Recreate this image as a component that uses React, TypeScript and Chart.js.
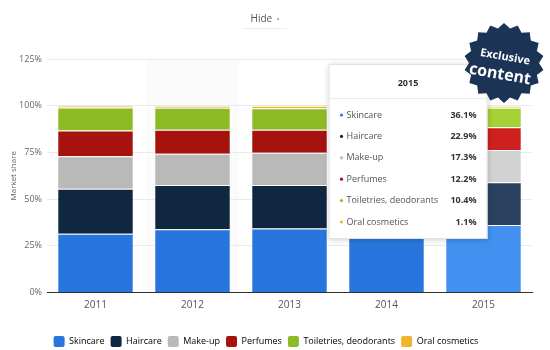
import React, { useEffect, useRef } from 'react';
import { Chart, registerables } from 'chart.js';

Chart.register(...registerables);

const years = ['2011', '2012', '2013', '2014', '2015'];
const skincare = [31.4, 33.9, 34.2, 35.2, 36.1];
const haircare = [24.1, 23.7, 23.4, 23.1, 22.9];
const makeup = [17.4, 16.7, 17.2, 17.2, 17.3];
const perfumes = [13.8, 12.8, 12.3, 12.3, 12.2];
const toiletries = [12.4, 11.8, 11.5, 10.9, 10.4];
const oral = [0.9, 1.1, 1.4, 1.3, 1.1];

const seriesNames = ['Skincare', 'Haircare', 'Make-up', 'Perfumes', 'Toiletries, deodorants', 'Oral cosmetics'];
const seriesValues = [skincare, haircare, makeup, perfumes, toiletries, oral];
const seriesColors = ['#2876dd', '#0f2740', '#b9b9b9', '#a6120e', '#8cbb25', '#f0b42e'];
const hoverColors = ['#4290f0', '#2a405f', '#d2d2d2', '#cf2020', '#a4d136', '#f5d04b'];
const yTicks = [0, 25, 50, 75, 100, 125];

const highlightIndex = 4;
const shadedIndex = 1;
const axisTitle = 'Market share';
const badgeLines = ['Exclusive', 'content'];
const FONT = '"Open Sans", "DejaVu Sans", sans-serif';

const shadePlugin = {
  id: 'shade',
  beforeDraw(chart: any) {
    const { ctx, chartArea } = chart;
    const x = chart.scales.x;
    const w = (x.getPixelForValue(1) - x.getPixelForValue(0));
    const cx = x.getPixelForValue(shadedIndex);
    ctx.save();
    ctx.fillStyle = '#fbfbfb';
    ctx.fillRect(cx - w / 2 + 2, chartArea.top, w - 4, chartArea.bottom - chartArea.top);
    ctx.restore();
  },
};

const tooltipPlugin = {
  id: 'fakeTooltip',
  afterDraw(chart: any) {
    const { ctx, chartArea } = chart;
    const cx = chart.scales.x.getPixelForValue(highlightIndex);
    const left = cx - 155;
    const top = chartArea.top + 5;
    const w = 159;
    const h = 175;
    ctx.save();
    ctx.shadowColor = 'rgba(0,0,0,0.18)';
    ctx.shadowBlur = 6;
    ctx.shadowOffsetY = 1;
    ctx.fillStyle = '#ffffff';
    ctx.fillRect(left, top, w, h);
    ctx.shadowColor = 'transparent';
    ctx.strokeStyle = '#e2e2e2';
    ctx.lineWidth = 1;
    ctx.strokeRect(left + 0.5, top + 0.5, w - 1, h - 1);
    ctx.fillStyle = '#333';
    ctx.font = `bold 9px ${FONT}`;
    ctx.textAlign = 'center';
    ctx.textBaseline = 'middle';
    ctx.fillText(years[highlightIndex], left + w / 2, top + 19);
    ctx.strokeStyle = '#eaeaea';
    ctx.beginPath();
    ctx.moveTo(left + 1, top + 34.5);
    ctx.lineTo(left + w - 1, top + 34.5);
    ctx.stroke();
    seriesNames.forEach((name, i) => {
      const y = top + 51 + i * 21.4;
      ctx.fillStyle = seriesColors[i];
      ctx.beginPath();
      ctx.arc(left + 13, y, 1.6, 0, Math.PI * 2);
      ctx.fill();
      ctx.textAlign = 'left';
      ctx.fillStyle = '#555';
      ctx.font = `9px ${FONT}`;
      ctx.fillText(name, left + 18, y);
      ctx.textAlign = 'right';
      ctx.fillStyle = '#333';
      ctx.font = `bold 9px ${FONT}`;
      ctx.fillText(seriesValues[i][highlightIndex].toFixed(1) + '%', left + w - 11, y);
    });
    ctx.restore();
  },
};

const badgePlugin = {
  id: 'badge',
  afterDraw(chart: any) {
    const { ctx } = chart;
    const cx = 504;
    const cy = 63;
    const points = 18;
    const rOut = 40;
    const rIn = 35;
    ctx.save();
    ctx.fillStyle = '#1b3455';
    ctx.beginPath();
    for (let i = 0; i < points * 2; i++) {
      const r = i % 2 === 0 ? rOut : rIn;
      const a = (i * Math.PI) / points - Math.PI / 2;
      const px = cx + r * Math.cos(a);
      const py = cy + r * Math.sin(a);
      if (i === 0) ctx.moveTo(px, py);
      else ctx.lineTo(px, py);
    }
    ctx.closePath();
    ctx.fill();
    ctx.translate(cx, cy);
    ctx.rotate((10 * Math.PI) / 180);
    ctx.fillStyle = '#ffffff';
    ctx.textAlign = 'center';
    ctx.textBaseline = 'middle';
    ctx.font = `bold 11px ${FONT}`;
    ctx.fillText(badgeLines[0], 0, -6);
    ctx.font = `bold 16px ${FONT}`;
    ctx.fillText(badgeLines[1], -2, 12);
    ctx.restore();
  },
};

export default function App() {
  const ref = useRef<HTMLCanvasElement>(null);

  useEffect(() => {
    if (!ref.current) return;
    const chart = new Chart(ref.current, {
      type: 'bar',
      data: {
        labels: years,
        datasets: seriesNames.map((name, i) => ({
          label: name,
          data: seriesValues[i],
          backgroundColor: (c: any) => (c.dataIndex === highlightIndex ? hoverColors[i] : seriesColors[i]),
          borderColor: 'rgba(255,255,255,0.45)',
          borderWidth: { top: 1, left: 0, right: 0, bottom: 0 },
          borderSkipped: 'start',
          barPercentage: 0.77,
          categoryPercentage: 1,
        })),
      },
      options: {
        responsive: false,
        animation: false,
        events: [],
        layout: { padding: { top: 59, right: 18, bottom: -7, left: 0 } },
        font: { family: FONT },
        scales: {
          x: {
            stacked: true,
            grid: { display: false, drawTicks: false },
            border: { display: true, color: '#333', width: 1 },
            ticks: { color: '#555', font: { family: FONT, size: 10 }, padding: 7 },
            afterFit(s: any) { s.height = 37.5; },
          },
          y: {
            stacked: true,
            min: 0,
            max: 125,
            afterBuildTicks(s: any) { s.ticks = yTicks.map((v) => ({ value: v })); },
            grid: { color: '#ebebeb', drawTicks: false },
            border: { display: false },
            ticks: {
              color: '#666',
              font: { family: FONT, size: 9 },
              padding: 5,
              callback: (v: any) => v + '%',
            },
            title: { display: true, text: axisTitle, color: '#666', font: { family: FONT, size: 8 }, padding: { top: 9, bottom: 0 } },
            afterFit(s: any) { s.width = 47; },
          },
        },
        plugins: {
          tooltip: { enabled: false },
          legend: {
            position: 'bottom',
            labels: {
              boxWidth: 11,
              boxHeight: 11,
              padding: 6,
              color: '#555',
              font: { family: FONT, size: 9 },
              useBorderRadius: true,
              borderRadius: 2,
              generateLabels: () =>
                seriesNames.map((n, i) => ({
                  text: n,
                  fillStyle: seriesColors[i],
                  strokeStyle: seriesColors[i],
                  lineWidth: 0,
                  hidden: false,
                  datasetIndex: i,
                  borderRadius: 2,
                })),
            },
          },
        },
      } as any,
      plugins: [shadePlugin, tooltipPlugin, badgePlugin],
    });
    return () => chart.destroy();
  }, []);

  return (
    <div style={{ position: 'fixed', left: 0, top: 0, width: 550, height: 350, background: '#fff' }}>
      <canvas ref={ref} width={550} height={350} style={{ display: 'block' }} />
      <div
        style={{
          position: 'absolute',
          left: 243,
          top: 8,
          width: 44,
          height: 20,
          lineHeight: '20px',
          textAlign: 'center',
          fontFamily: FONT,
          fontSize: 10,
          color: '#555',
          boxShadow: '0 1px 1px rgba(0,0,0,0.06)',
        }}
      >
        Hide <span style={{ fontSize: 7, color: '#777', marginLeft: 2 }}>•</span>
      </div>
    </div>
  );
}
